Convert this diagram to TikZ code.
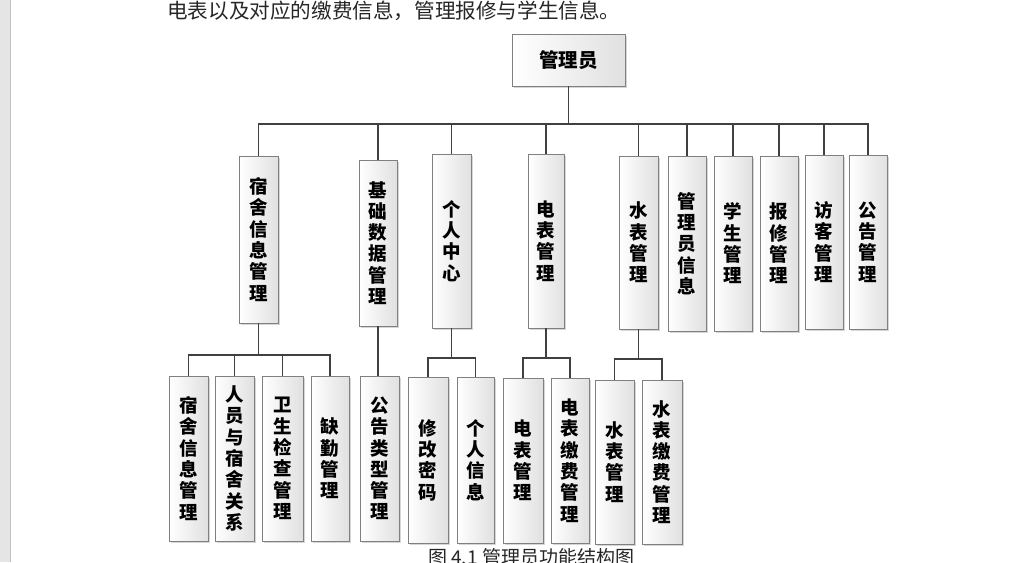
\documentclass[tikz,border=0pt]{standalone}
\usepackage{fontspec}
\setmainfont{Noto Sans CJK SC}
\usetikzlibrary{shadows}
\tikzset{
  box/.style={draw=black!50, line width=1pt, left color=white, right color=black!12,
    inner sep=0pt, outer sep=0pt, align=center,
    font=\bfseries\fontsize{18.5}{21.3}\selectfont,
    drop shadow={shadow xshift=1.5pt, shadow yshift=-1.5pt, fill=black!40, opacity=.4}},
  link/.style={draw=black!75, line width=1.5pt},
  bodytext/.style={inner sep=0pt, anchor=west, text=black!85}
}
\newcommand\bx[6]{\node[box, minimum width={(#4-#2)*1pt}, minimum height={(#5-#3)*1pt}] (#1) at ({(#2+#4)/2},{(#3+#5)/2}) {#6};}
\begin{document}
\begin{tikzpicture}[x=1pt,y=-1pt]
\useasboundingbox (0,0) rectangle (1030,562);
\fill[white] (0,0) rectangle (1030,562);
\fill[black!10] (0,0) rectangle (10,562);
\draw[black!25, line width=1pt] (10,0) -- (10,562);

\node[bodytext, font=\fontsize{20.6}{22}\selectfont] (top) at (167,11) {电表以及对应的缴费信息，管理报修与学生信息。};

% root
\node[box, font=\bfseries\fontsize{19.5}{21}\selectfont, minimum width=113pt, minimum height=52pt] (root) at (568.5,60) {管理员};

% level 1
\bx{s1}{239}{156}{278}{323}{宿\\舍\\信\\息\\管\\理}
\bx{s2}{359}{160}{397}{326}{基\\础\\数\\据\\管\\理}
\bx{s3}{432}{154}{471}{328}{个\\人\\中\\心}
\bx{s4}{528}{154}{564}{328}{电\\表\\管\\理}
\bx{s5}{619}{156}{658}{329}{水\\表\\管\\理}
\bx{s6}{668}{156}{706}{331}{管\\理\\员\\信\\息}
\bx{s7}{714}{156}{752}{331}{学\\生\\管\\理}
\bx{s8}{760}{156}{798}{331}{报\\修\\管\\理}
\bx{s9}{805}{155}{843}{329}{访\\客\\管\\理}
\bx{s10}{849}{155}{887}{329}{公\\告\\管\\理}

% level 2
\bx{a1}{169}{376}{208}{541}{宿\\舍\\信\\息\\管\\理}
\bx{a2}{215}{376}{254}{541}{人\\员\\与\\宿\\舍\\关\\系}
\bx{a3}{262}{376}{303}{541}{卫\\生\\检\\查\\管\\理}
\bx{a4}{311}{376}{349}{541}{缺\\勤\\管\\理}
\bx{b1}{360}{376}{399}{541}{公\\告\\类\\型\\管\\理}
\bx{c1}{408}{377}{448}{543}{修\\改\\密\\码}
\bx{c2}{457}{377}{494}{543}{个\\人\\信\\息}
\bx{d1}{503}{378}{543}{543}{电\\表\\管\\理}
\bx{d2}{551}{378}{589}{543}{电\\表\\缴\\费\\管\\理}
\bx{e1}{595}{380}{634}{544}{水\\表\\管\\理}
\bx{e2}{642}{380}{682}{544}{水\\表\\缴\\费\\管\\理}

% connectors
\coordinate (bus) at (568.5,124);
\draw[link] (root.south) -- (bus);
\foreach \n in {s1,s2,s3,s4,s5,s6,s7,s8,s9,s10} \draw[link] (bus) -| (\n.north);

\coordinate (busa) at (258.5,355);
\draw[link] (s1.south) -- (busa);
\foreach \n in {a1,a2,a3,a4} \draw[link] (busa) -| (\n.north);

\draw[link] (s2.south) -- (s2.south |- b1.north);

\coordinate (busc) at (451.5,358);
\draw[link] (s3.south) -- (busc);
\foreach \n in {c1,c2} \draw[link] (busc) -| (\n.north);

\coordinate (busd) at (546,358);
\draw[link] (s4.south) -- (busd);
\foreach \n in {d1,d2} \draw[link] (busd) -| (\n.north);

\coordinate (buse) at (638.5,359);
\draw[link] (s5.south) -- (buse);
\foreach \n in {e1,e2} \draw[link] (buse) -| (\n.north);

\node[bodytext, font=\fontsize{19}{20}\selectfont, anchor=north west] (cap) at (428,548) {图 4.1 管理员功能结构图};
\end{tikzpicture}
\end{document}
